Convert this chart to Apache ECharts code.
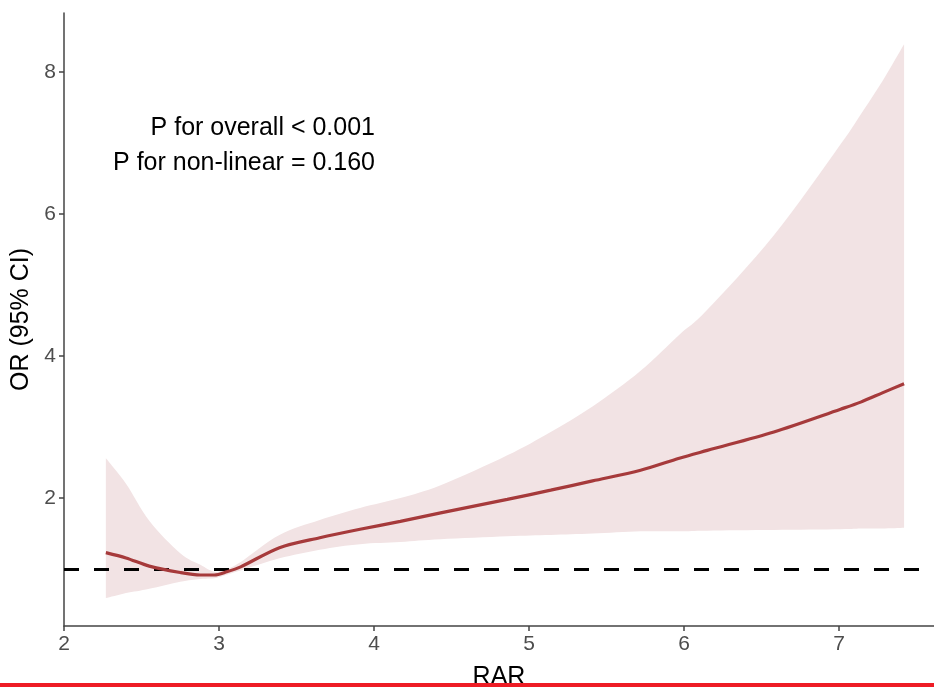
<!DOCTYPE html>
<html>
<head>
<meta charset="utf-8">
<script src="https://cdn.jsdelivr.net/npm/echarts@6/dist/echarts.min.js"></script>
<style>
  html, body { margin: 0; padding: 0; background: #fff; }
  #chart { width: 934px; height: 687px; }
</style>
</head>
<body>
<div id="chart"></div>
<script>
// values
const rar = [2.27, 2.4, 2.55, 2.75, 2.88, 2.97, 3.05, 3.14, 3.39, 3.65, 3.91, 4.17, 4.43, 4.86, 5.14, 5.41, 5.72, 5.97, 6.15, 6.58, 7.01, 7.14, 7.28, 7.42];
const orValue = [1.23, 1.155, 1.04, 0.95, 0.915, 0.915, 0.96, 1.03, 1.30, 1.44, 1.56, 1.67, 1.79, 1.98, 2.11, 2.24, 2.39, 2.56, 2.67, 2.93, 3.25, 3.35, 3.48, 3.61];
const ciUpper = [2.56, 2.2, 1.68, 1.22, 1.06, 0.96, 1.0, 1.10, 1.48, 1.69, 1.86, 2.0, 2.18, 2.6, 2.93, 3.29, 3.79, 4.3, 4.65, 5.7, 6.98, 7.4, 7.87, 8.39];
const ciLower = [0.59, 0.66, 0.72, 0.82, 0.86, 0.87, 0.92, 0.98, 1.15, 1.27, 1.35, 1.38, 1.42, 1.46, 1.48, 1.50, 1.53, 1.53, 1.54, 1.55, 1.56, 1.57, 1.57, 1.58];
const xTicks = [2, 3, 4, 5, 6, 7];
const yTicks = [2, 4, 6, 8];
const refLine = 1;
const pOverall = 'P for overall < 0.001';
const pNonLinear = 'P for non-linear = 0.160';

const chart = echarts.init(document.getElementById('chart'));

const textColor = '#4d4d4d';
const axisColor = '#444';
const font = 'Liberation Sans';

// smooth a list of pixel points (catmull-rom) so the band edge isn't jagged
function smoothPts(pts, steps) {
  const out = [];
  for (let i = 0; i < pts.length - 1; i++) {
    const p0 = pts[Math.max(i - 1, 0)], p1 = pts[i], p2 = pts[i + 1], p3 = pts[Math.min(i + 2, pts.length - 1)];
    for (let s = 0; s < steps; s++) {
      const t = s / steps, t2 = t * t, t3 = t2 * t;
      out.push([0, 1].map(k => 0.5 * ((2 * p1[k]) + (-p0[k] + p2[k]) * t +
        (2 * p0[k] - 5 * p1[k] + 4 * p2[k] - p3[k]) * t2 +
        (-p0[k] + 3 * p1[k] - 3 * p2[k] + p3[k]) * t3)));
    }
  }
  out.push(pts[pts.length - 1]);
  return out;
}

const option = {
  animation: false,
  backgroundColor: '#fff',
  grid: { left: 64, top: 13, right: 0, bottom: 61, outerBoundsMode: 'none', containLabel: false },
  xAxis: {
    type: 'value',
    min: 2,
    max: 7.613,
    name: 'RAR',
    nameLocation: 'middle',
    nameGap: 39,
    nameTextStyle: { color: '#000', fontSize: 25, fontFamily: font },
    axisLine: { show: true, onZero: false, lineStyle: { color: axisColor, width: 1.5 } },
    axisTick: { show: true, length: 5, customValues: xTicks, lineStyle: { color: axisColor, width: 1.5 } },
    axisLabel: { customValues: xTicks, color: textColor, fontSize: 21, margin: 8, fontFamily: font },
    splitLine: { show: false }
  },
  yAxis: {
    type: 'value',
    min: 0.197,
    max: 8.83,
    name: 'OR (95% CI)',
    nameLocation: 'middle',
    nameGap: 26,
    nameTextStyle: { color: '#000', fontSize: 25, fontFamily: font },
    axisLine: { show: true, onZero: false, lineStyle: { color: axisColor, width: 1.5 } },
    axisTick: { show: true, length: 5, customValues: yTicks, lineStyle: { color: axisColor, width: 1.5 } },
    axisLabel: { customValues: yTicks, color: textColor, fontSize: 21, margin: 8, fontFamily: font },
    splitLine: { show: false }
  },
  series: [
    {
      // confidence band: upper edge, then lower edge back
      type: 'custom',
      data: rar.map((x, i) => [x, ciUpper[i], ciLower[i]]),
      z: 1,
      silent: true,
      renderItem: function (params, api) {
        if (params.dataIndex !== 0) return;
        const up = rar.map((x, i) => api.coord([x, ciUpper[i]]));
        const lo = rar.map((x, i) => api.coord([x, ciLower[i]]));
        const pts = smoothPts(up, 8).concat(smoothPts(lo, 8).reverse());
        return {
          type: 'polygon',
          shape: { points: pts },
          style: { fill: '#f2e3e4', stroke: null }
        };
      }
    },
    {
      type: 'line',
      data: rar.map((x, i) => [x, orValue[i]]),
      smooth: 0.3,
      showSymbol: false,
      z: 3,
      lineStyle: { color: '#a63a3b', width: 3.2 },
      markLine: {
        silent: true,
        symbol: ['none', 'none'],
        label: { show: false },
        z: 2,
        lineStyle: { color: '#000', type: [15, 15], width: 3 },
        data: [{ yAxis: refLine }]
      }
    }
  ],
  graphic: [
    {
      type: 'text',
      right: 934 - 375,
      top: 116,
      style: { text: pOverall, fill: '#000', fontSize: 25, fontFamily: font, textAlign: 'right' }
    },
    {
      type: 'text',
      right: 934 - 375,
      top: 151,
      style: { text: pNonLinear, fill: '#000', fontSize: 25, fontFamily: font, textAlign: 'right' }
    },
    {
      type: 'rect',
      left: 0,
      top: 683,
      shape: { width: 934, height: 4 },
      style: { fill: '#ee1c25' },
      z: 100
    }
  ]
};

chart.setOption(option);
</script>
</body>
</html>
